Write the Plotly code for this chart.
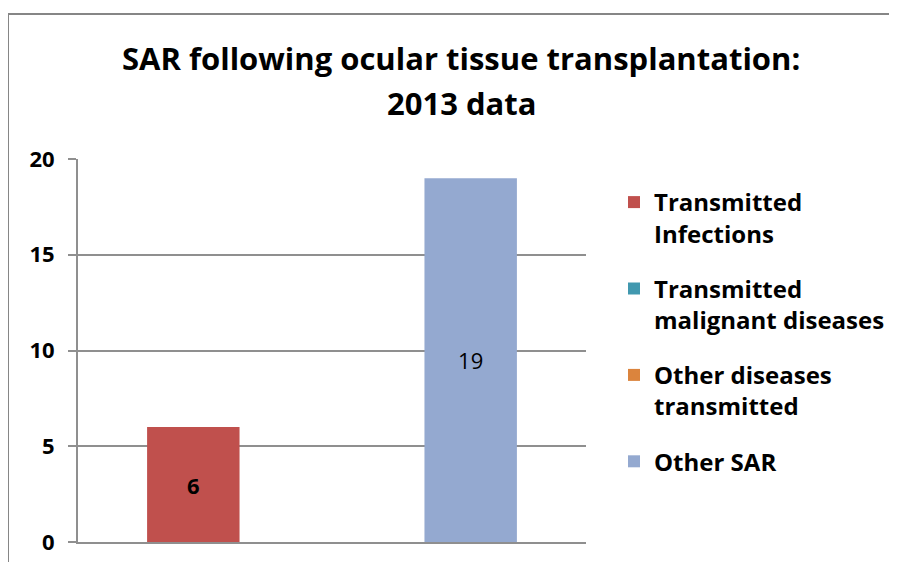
import plotly.graph_objects as go

# ---------------------------------------------------------------------------
# Data
# ---------------------------------------------------------------------------

CATEGORIES = [""]
SERIES_NAMES = [
    "Transmitted<br>Infections",
    "Transmitted<br>malignant diseases",
    "Other diseases<br>transmitted",
    "Other SAR",
]
SERIES_VALUES = [6, 0, 0, 19]
Y_TICKS = [0, 5, 10, 15, 20]

TITLE_LINE_1 = "SAR following ocular tissue transplantation:"
TITLE_LINE_2 = "2013 data"

# ---------------------------------------------------------------------------
# Design tokens
# ---------------------------------------------------------------------------

RED    = "#C0504D"
TEAL   = "#4198AF"
ORANGE = "#DB843D"
BLUE   = "#94A9D0"
GRID   = "#8F8F8F"
FRAME  = "#868686"
FONT   = "'Open Sans', sans-serif"

COLORS = [RED, TEAL, ORANGE, BLUE]
LABEL_WEIGHTS = ["bold", "normal", "normal", "normal"]

W, H = 897, 562
OFF = 8  # page body margin: the figure is drawn 8px in from the window corner
# plot area, in window pixels
PL, PR, PT, PB = 78, 586, 159, 542


def px_x(px):
    return (px - PL) / (PR - PL)


def px_y(py):
    return (PB - py) / (PB - PT)


fig = go.Figure()

for i, (name, val) in enumerate(zip(SERIES_NAMES, SERIES_VALUES)):
    fig.add_trace(go.Bar(
        x=CATEGORIES,
        y=[val],
        name=name,
        legendgroup=f"g{i}",
        marker=dict(color=COLORS[i], line=dict(width=0)),
        text=[str(val) if val else ""],
        textposition="inside",
        insidetextanchor="middle",
        textangle=0,
        textfont=dict(size=22, color="black", family=FONT, weight=LABEL_WEIGHTS[i]),
        hovertemplate=name.replace("<br>", " ") + ": %{y}<extra></extra>",
    ))

fig.update_layout(
    width=W,
    height=H,
    paper_bgcolor="white",
    plot_bgcolor="white",
    barmode="group",
    bargap=0.272,
    bargroupgap=0,
    margin=dict(l=PL - OFF, r=W - (PR - OFF), t=PT - OFF, b=H - (PB - OFF),
                autoexpand=False),
    font=dict(family=FONT, color="black"),
    showlegend=True,
    legend=dict(
        x=px_x(614),
        y=px_y(180),
        xanchor="left",
        yanchor="top",
        valign="top",
        tracegroupgap=21,
        font=dict(size=24, family=FONT, weight="bold", color="black"),
        bgcolor="rgba(0,0,0,0)",
    ),
    xaxis=dict(
        showticklabels=False,
        showgrid=False,
        showline=True,
        linecolor=GRID,
        linewidth=2,
        ticks="",
        zeroline=False,
    ),
    yaxis=dict(
        range=[0, 20],
        tickvals=Y_TICKS,
        showgrid=True,
        gridcolor=GRID,
        gridwidth=1.8,
        showline=True,
        linecolor=GRID,
        linewidth=1.8,
        ticks="outside",
        ticklen=8,
        tickwidth=1.8,
        tickcolor=GRID,
        ticklabelstandoff=9,
        tickfont=dict(size=22, family=FONT, weight="bold", color="black"),
        zeroline=False,
        fixedrange=True,
    ),
    annotations=[
        dict(
            text=TITLE_LINE_1, xref="paper", yref="paper",
            x=px_x(461), y=px_y(58), showarrow=False,
            xanchor="center", yanchor="middle",
            font=dict(size=31, family=FONT, weight="bold", color="black"),
        ),
        dict(
            text=TITLE_LINE_2, xref="paper", yref="paper",
            x=px_x(461), y=px_y(103), showarrow=False,
            xanchor="center", yanchor="middle",
            font=dict(size=31, family=FONT, weight="bold", color="black"),
        ),
    ],
    shapes=[
        # chart-area frame (left and top edges visible in the crop)
        dict(type="line", xref="paper", yref="paper",
             x0=px_x(8), x1=px_x(8), y0=px_y(14), y1=px_y(H + 20),
             line=dict(color=FRAME, width=2)),
        dict(type="line", xref="paper", yref="paper",
             x0=px_x(8), x1=px_x(W + 20), y0=px_y(14), y1=px_y(14),
             line=dict(color=FRAME, width=2)),
    ],
)

fig.write_html("out.html")
